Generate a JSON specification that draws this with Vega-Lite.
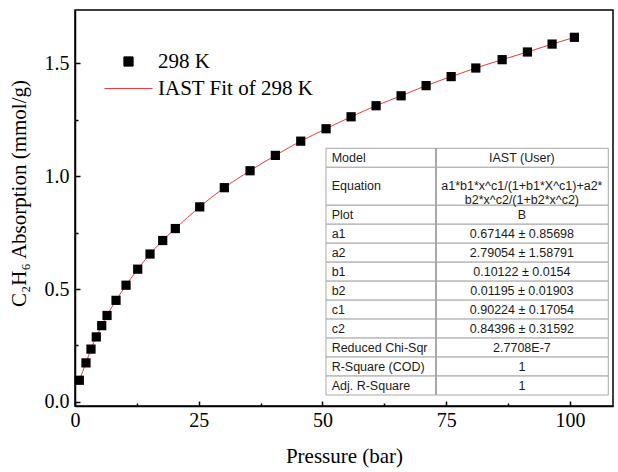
{
  "$schema": "https://vega.github.io/schema/vega-lite/v6.json",
  "width": 538,
  "height": 396,
  "autosize": "none",
  "padding": {"left": 75, "top": 10, "right": 5, "bottom": 66},
  "background": "white",
  "config": {"view": {"stroke": "black", "strokeWidth": 1.5}},
  "datasets": {
    "isotherm": [
      {"pressure": 0.87, "uptake": 0.096},
      {"pressure": 2.22, "uptake": 0.173},
      {"pressure": 3.23, "uptake": 0.234},
      {"pressure": 4.30, "uptake": 0.288},
      {"pressure": 5.40, "uptake": 0.338},
      {"pressure": 6.47, "uptake": 0.383},
      {"pressure": 8.29, "uptake": 0.450},
      {"pressure": 10.31, "uptake": 0.517},
      {"pressure": 12.67, "uptake": 0.588},
      {"pressure": 15.16, "uptake": 0.655},
      {"pressure": 17.72, "uptake": 0.715},
      {"pressure": 20.27, "uptake": 0.768},
      {"pressure": 25.2, "uptake": 0.864},
      {"pressure": 30.17, "uptake": 0.949},
      {"pressure": 35.37, "uptake": 1.024},
      {"pressure": 40.48, "uptake": 1.092},
      {"pressure": 45.61, "uptake": 1.155},
      {"pressure": 50.73, "uptake": 1.210},
      {"pressure": 55.78, "uptake": 1.263},
      {"pressure": 60.83, "uptake": 1.312},
      {"pressure": 65.89, "uptake": 1.356},
      {"pressure": 70.94, "uptake": 1.401},
      {"pressure": 76.0, "uptake": 1.441},
      {"pressure": 80.98, "uptake": 1.479},
      {"pressure": 86.3, "uptake": 1.516},
      {"pressure": 91.41, "uptake": 1.550},
      {"pressure": 96.4, "uptake": 1.585},
      {"pressure": 100.9, "uptake": 1.615}
    ],
    "fit_table": [
      {"parameter": "Model", "value": "IAST (User)", "r0": 0, "r1": 1},
      {"parameter": "Equation", "value": "a1*b1*x^c1/(1+b1*X^c1)+a2*\nb2*x^c2/(1+b2*x^c2)", "r0": 1, "r1": 3},
      {"parameter": "Plot", "value": "B", "r0": 3, "r1": 4},
      {"parameter": "a1", "value": "0.67144 ± 0.85698", "r0": 4, "r1": 5},
      {"parameter": "a2", "value": "2.79054 ± 1.58791", "r0": 5, "r1": 6},
      {"parameter": "b1", "value": "0.10122 ± 0.0154", "r0": 6, "r1": 7},
      {"parameter": "b2", "value": "0.01195 ± 0.01903", "r0": 7, "r1": 8},
      {"parameter": "c1", "value": "0.90224 ± 0.17054", "r0": 8, "r1": 9},
      {"parameter": "c2", "value": "0.84396 ± 0.31592", "r0": 9, "r1": 10},
      {"parameter": "Reduced Chi-Sqr", "value": "2.7708E-7", "r0": 10, "r1": 11},
      {"parameter": "R-Square (COD)", "value": "1", "r0": 11, "r1": 12},
      {"parameter": "Adj. R-Square", "value": "1", "r0": 12, "r1": 13}
    ]
  },
  "layer": [
    {
      "data": {"name": "isotherm"},
      "encoding": {
        "x": {
          "field": "pressure",
          "type": "quantitative",
          "title": "Pressure (bar)",
          "scale": {"domain": [0, 108.7], "nice": false, "zero": false},
          "axis": {
            "values": [0, 12.5, 25, 37.5, 50, 62.5, 75, 87.5, 100],
            "labelExpr": "datum.value % 25 == 0 ? datum.label : ''",
            "tickSize": {"condition": {"test": "datum.value % 25 != 0", "value": -3}, "value": -5},
            "tickColor": "black",
            "tickWidth": 1.5,
            "domainColor": "black",
            "domainWidth": 1.5,
            "grid": false,
            "labelFlush": false,
            "labelOverlap": false,
            "labelFont": "Liberation Serif",
            "labelFontSize": 20,
            "labelColor": "black",
            "labelPadding": 9,
            "titleFont": "Liberation Serif",
            "titleFontSize": 21,
            "titleFontWeight": "normal",
            "titleColor": "black",
            "titleX": 269,
            "titleY": 50,
            "titleBaseline": "middle",
            "titleAlign": "center"
          }
        },
        "y": {
          "field": "uptake",
          "type": "quantitative",
          "title": "C₂H₆ Absorption (mmol/g)",
          "scale": {"domain": [-0.018, 1.736], "nice": false, "zero": false},
          "axis": {
            "values": [0, 0.25, 0.5, 0.75, 1, 1.25, 1.5],
            "labelExpr": "round(datum.value * 100) % 50 == 0 ? format(datum.value, '.1f') : ''",
            "tickSize": {"condition": {"test": "round(datum.value * 100) % 50 != 0", "value": -3}, "value": -5},
            "tickColor": "black",
            "tickWidth": 1.5,
            "domainColor": "black",
            "domainWidth": 1.5,
            "grid": false,
            "labelFlush": false,
            "labelOverlap": false,
            "labelFont": "Liberation Serif",
            "labelFontSize": 20,
            "labelColor": "black",
            "labelPadding": 11,
            "titleFont": "Liberation Serif",
            "titleFontSize": 21,
            "titleFontWeight": "normal",
            "titleColor": "black",
            "titleAngle": 270,
            "titleX": -56,
            "titleY": 183,
            "titleBaseline": "middle",
            "titleAlign": "center"
          }
        }
      },
      "layer": [
        {
          "mark": {"type": "line", "strokeWidth": 1, "interpolate": "monotone"},
          "encoding": {
            "color": {
              "datum": "IAST Fit of 298 K",
              "type": "nominal",
              "scale": {"domain": ["298 K", "IAST Fit of 298 K"], "range": ["black", "#ee3b3b"]},
              "legend": {
                "title": null,
                "orient": "none",
                "legendX": 43,
                "legendY": 41,
                "padding": 0,
                "labelFont": "Liberation Serif",
                "labelFontSize": 21,
                "labelColor": "black",
                "labelOffset": 19,
                "labelLimit": 0,
                "rowPadding": 5,
                "symbolSize": 85,
                "symbolStrokeWidth": 1,
                "encode": {
                  "symbols": {
                    "update": {
                      "fill": {"scale": "color", "field": "value"},
                      "stroke": {"scale": "color", "field": "value"},
                      "strokeWidth": {"value": 1},
                      "opacity": {"value": 1}
                    }
                  }
                }
              }
            }
          }
        },
        {
          "mark": {"type": "point", "filled": true, "size": 85, "opacity": 1},
          "encoding": {
            "color": {"datum": "298 K", "type": "nominal"},
            "shape": {
              "datum": "298 K",
              "type": "nominal",
              "scale": {"domain": ["298 K", "IAST Fit of 298 K"], "range": ["square", "M-5.2,0H5.2"]},
              "legend": {
                "title": null,
                "orient": "none",
                "legendX": 43,
                "legendY": 41,
                "padding": 0,
                "labelFont": "Liberation Serif",
                "labelFontSize": 21,
                "labelColor": "black",
                "labelOffset": 19,
                "labelLimit": 0,
                "rowPadding": 5,
                "symbolSize": 85,
                "symbolStrokeWidth": 1
              }
            }
          }
        }
      ]
    },
    {
      "data": {"name": "fit_table"},
      "transform": [{"calculate": "(datum.r0 + datum.r1) / 2", "as": "mid"}],
      "layer": [
        {
          "mark": {"type": "rect", "fill": "white", "stroke": "#a8a8a8", "strokeWidth": 1},
          "encoding": {
            "x": {"datum": 0, "type": "quantitative", "scale": {"domain": [-0.8891, 1.0167], "nice": false, "zero": false}, "axis": null},
            "x2": {"datum": 1},
            "y": {"field": "r0", "type": "quantitative", "scale": {"domain": [-7.288, 13.579], "nice": false, "zero": false, "reverse": true}, "axis": null},
            "y2": {"field": "r1"}
          }
        },
        {
          "mark": {"type": "rule", "color": "#a8a8a8", "strokeWidth": 1},
          "encoding": {
            "x": {"datum": 0.3897, "type": "quantitative"},
            "y": {"datum": 0, "type": "quantitative"},
            "y2": {"datum": 13}
          }
        },
        {
          "mark": {"type": "text", "align": "left", "baseline": "middle", "font": "Liberation Sans", "fontSize": 12.5, "color": "#1a1a1a"},
          "encoding": {
            "x": {"datum": 0.02, "type": "quantitative"},
            "y": {"field": "mid", "type": "quantitative"},
            "text": {"field": "parameter", "type": "nominal"}
          }
        },
        {
          "mark": {"type": "text", "align": "center", "baseline": "middle", "font": "Liberation Sans", "fontSize": 12.5, "color": "#1a1a1a", "lineBreak": "\n", "lineHeight": 13.5},
          "encoding": {
            "x": {"datum": 0.694, "type": "quantitative"},
            "y": {"field": "mid", "type": "quantitative"},
            "text": {"field": "value", "type": "nominal"}
          }
        }
      ]
    }
  ],
  "resolve": {"scale": {"x": "independent", "y": "independent"}}
}
